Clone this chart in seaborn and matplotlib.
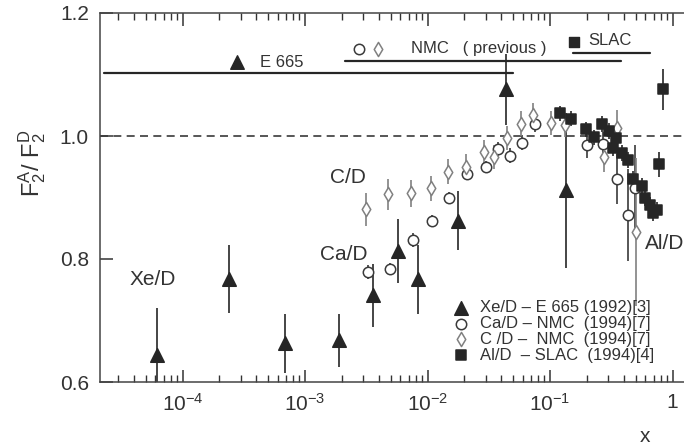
import matplotlib
matplotlib.use("Agg")
import matplotlib.pyplot as plt
import numpy as np
import pandas as pd
import seaborn as sns
from matplotlib.ticker import FixedLocator, FixedFormatter, LogLocator, NullFormatter

# ---------------- data ----------------
# Xe/D - E665 (1992)
xe_x = [6.2e-5, 2.4e-4, 6.9e-4, 1.9e-3, 3.6e-3, 5.7e-3, 8.4e-3, 0.0178, 0.0437, 0.135]
xe_y = [0.644, 0.767, 0.663, 0.668, 0.741, 0.813, 0.767, 0.862, 1.076, 0.912]
xe_err = [0.076, 0.055, 0.048, 0.043, 0.051, 0.052, 0.056, 0.048, 0.058, 0.126]

# Ca/D - NMC (1994)
ca_x = [3.27e-3, 4.9e-3, 7.6e-3, 0.0109, 0.0150, 0.0210, 0.030, 0.0377, 0.047,
        0.059, 0.0755, 0.200, 0.271, 0.352, 0.433, 0.494]
ca_y = [0.779, 0.784, 0.831, 0.862, 0.899, 0.938, 0.950, 0.979, 0.968,
        0.989, 1.020, 0.985, 0.987, 0.930, 0.872, 0.915]
ca_err = [0.012, 0.010, 0.012, 0.010, 0.010, 0.010, 0.010, 0.012, 0.012,
          0.012, 0.014, 0.020, 0.020, 0.040, 0.075, 0.070]

# C/D - NMC (1994)
c_x = [3.15e-3, 4.76e-3, 7.33e-3, 0.0107, 0.0147, 0.0206, 0.0289, 0.0349, 0.0446,
       0.058, 0.0726, 0.102, 0.132, 0.276, 0.352, 0.503]
c_y = [0.881, 0.905, 0.907, 0.915, 0.942, 0.950, 0.974, 0.966, 0.997,
       1.020, 1.034, 1.021, 1.018, 0.966, 1.013, 0.844]
c_err = [0.027, 0.025, 0.022, 0.020, 0.020, 0.020, 0.020, 0.020, 0.020,
         0.020, 0.020, 0.020, 0.020, 0.025, 0.030, 0.120]

# Al/D - SLAC (1994)
al_x = [0.121, 0.148, 0.197, 0.229, 0.266, 0.303, 0.327, 0.346, 0.387,
        0.434, 0.476, 0.564, 0.597, 0.655, 0.693, 0.747, 0.776, 0.836]
al_y = [1.037, 1.028, 1.011, 0.998, 1.020, 1.008, 0.980, 0.997, 0.972,
        0.961, 0.930, 0.919, 0.899, 0.888, 0.875, 0.880, 0.954, 1.076]
al_err = [0.012, 0.012, 0.012, 0.012, 0.013, 0.013, 0.013, 0.013, 0.013,
          0.013, 0.013, 0.013, 0.013, 0.013, 0.013, 0.013, 0.020, 0.033]

legend_labels = ["Xe/D \u2013 E 665 (1992)[3]",
                 "Ca/D \u2013 NMC  (1994)[7]",
                 "C /D \u2013  NMC  (1994)[7]",
                 "Al/D  \u2013 SLAC  (1994)[4]"]

# x-ranges of the experiments (top bars)
e665_range = [2.3e-5, 0.050]
nmc_range = [2.1e-3, 0.38]
slac_range = [0.155, 0.65]

x_ticks = [1e-4, 1e-3, 1e-2, 1e-1, 1]
x_ticklabels = [r"$\mathregular{10^{-4}}$", r"$\mathregular{10^{-3}}$",
                r"$\mathregular{10^{-2}}$", r"$\mathregular{10^{-1}}$", "1"]
y_ticks = [0.6, 0.8, 1.0, 1.2]
y_ticklabels = ["0.6", "0.8", "1.0", "1.2"]

# ---------------- style ----------------
sns.set_style("ticks")
plt.rcParams['font.family'] = ['Liberation Sans', 'DejaVu Sans']
plt.rcParams['mathtext.fontset'] = 'custom'
plt.rcParams['mathtext.rm'] = 'Liberation Sans'
plt.rcParams['mathtext.it'] = 'Liberation Sans:italic'
plt.rcParams['mathtext.bf'] = 'Liberation Sans:bold'

DARK = '#262626'
TXT = '#333333'
GREY = '#808080'

fig = plt.figure(figsize=(6.84, 4.45), dpi=100)
ax = fig.add_axes([100 / 684, 1 - 382 / 445, 584 / 684, 369 / 445])

series = [
    (xe_x, xe_y, xe_err, '^', DARK, DARK, 95, legend_labels[0]),
    (ca_x, ca_y, ca_err, 'o', 'white', '#3a3a3a', 56, legend_labels[1]),
    (c_x, c_y, c_err, 'd', 'white', GREY, 52, legend_labels[2]),
    (al_x, al_y, al_err, 's', DARK, DARK, 44, legend_labels[3]),
]

for x, y, e, m, fc, ec, s, lab in series:
    df = pd.DataFrame({"x": x, "y": y, "e": e})
    ax.errorbar(df["x"], df["y"], yerr=df["e"], fmt='none', ecolor=ec,
                elinewidth=1.2, capsize=0, zorder=2)
    sns.scatterplot(data=df, x="x", y="y", marker=m, s=s, color=fc, edgecolor=ec,
                    linewidth=1.1, ax=ax, zorder=3, label=lab, legend=False)

# reference line at 1.0
ax.axhline(1.0, color='#3a3a3a', lw=1.2, dashes=(4.8, 3.2), zorder=1)

# experiment ranges at the top
ax.plot(e665_range, [1.102, 1.102], color=DARK, lw=1.6)
ax.plot(nmc_range, [1.122, 1.122], color=DARK, lw=1.6)
ax.plot(slac_range, [1.135, 1.135], color=DARK, lw=1.6)
ax.scatter([2.8e-4], [1.12], marker='^', s=95, color=DARK, zorder=3)
ax.scatter([2.76e-3], [1.141], marker='o', s=56, facecolor='white', edgecolor='#3a3a3a', lw=1.1, zorder=3)
ax.scatter([3.95e-3], [1.141], marker='d', s=52, facecolor='white', edgecolor=GREY, lw=1.1, zorder=3)
ax.scatter([0.157], [1.153], marker='s', s=44, color=DARK, zorder=3)
ax.text(4.3e-4, 1.12, "E 665", fontsize=12, color=TXT, va='center', ha='left')
ax.text(7.3e-3, 1.143, "NMC   ( previous )", fontsize=12, color=TXT, va='center', ha='left')
ax.text(0.204, 1.155, "SLAC", fontsize=12, color=TXT, va='center', ha='left')

# series labels
ax.text(1.6e-3, 0.933, "C/D", fontsize=15, color=TXT, va='center', ha='left')
ax.text(1.32e-3, 0.807, "Ca/D", fontsize=15, color=TXT, va='center', ha='left')
ax.text(3.7e-5, 0.766, "Xe/D", fontsize=15, color=TXT, va='center', ha='left')
ax.text(0.597, 0.826, "Al/D", fontsize=15, color=TXT, va='center', ha='left')

# axes
ax.set_xscale('log')
ax.set_xlim(2.12e-5, 1.24)
ax.set_ylim(0.6, 1.2)
ax.xaxis.set_major_locator(FixedLocator(x_ticks))
ax.xaxis.set_major_formatter(FixedFormatter(x_ticklabels))
ax.xaxis.set_minor_locator(LogLocator(base=10, subs=np.arange(2, 10)))
ax.xaxis.set_minor_formatter(NullFormatter())
ax.yaxis.set_major_locator(FixedLocator(y_ticks))
ax.yaxis.set_major_formatter(FixedFormatter(y_ticklabels))
ax.tick_params(axis='x', which='major', direction='in', length=9, width=1.1, top=True,
               bottom=True, labelsize=15, colors=TXT, pad=8)
ax.tick_params(axis='x', which='minor', direction='in', length=5, width=1.0, top=True, bottom=True,
               colors=TXT)
ax.tick_params(axis='y', which='major', direction='in', length=9, width=1.1, labelsize=15,
               colors=TXT, pad=8)
for sp in ['left', 'bottom', 'top']:
    ax.spines[sp].set_visible(True)
    ax.spines[sp].set_color('#444444')
    ax.spines[sp].set_linewidth(1.1)
ax.spines['right'].set_visible(False)
ax.set_xlabel("")
ax.set_ylabel("")

fig.text(32 / 684, 1 - 163 / 445, r"$\mathregular{F_2^A/\ F_2^D}$", rotation=90,
         fontsize=17, color=TXT, ha='center', va='center')
fig.text(645 / 684, 1 - 437 / 445, "x", fontsize=15, color=TXT, ha='center', va='center')

handles, labels = ax.get_legend_handles_labels()
leg = ax.legend(handles, labels, loc='upper left', bbox_to_anchor=(0.604, 0.222),
                frameon=False, fontsize=12, labelspacing=0.05, handlelength=1.0,
                handletextpad=0.65, borderpad=0, borderaxespad=0, scatterpoints=1)
for t in leg.get_texts():
    t.set_color(TXT)

fig.savefig("out.png", dpi=100)
